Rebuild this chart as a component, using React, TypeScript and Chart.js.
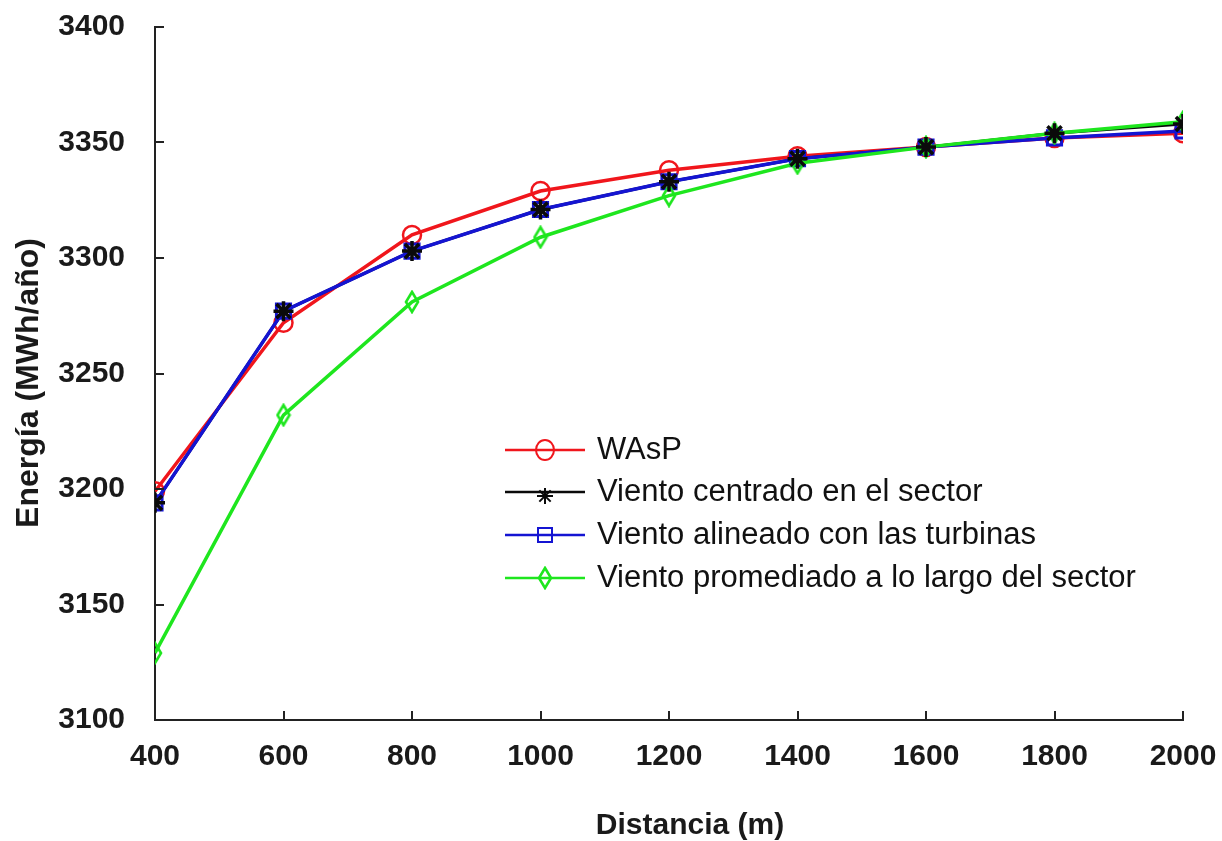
import React, { useEffect, useRef } from 'react';
import { Chart, registerables } from 'chart.js';

Chart.register(...registerables);

// ---- Data ----
const distances = [400, 600, 800, 1000, 1200, 1400, 1600, 1800, 2000];
const wasp = [3199, 3272, 3310, 3329, 3338, 3344, 3348, 3352, 3354];
const centrado = [3194, 3277, 3303, 3321, 3333, 3343, 3348, 3354, 3358];
const alineado = [3194, 3277, 3303, 3321, 3333, 3343, 3348, 3352, 3355];
const promediado = [3129, 3232, 3281, 3309, 3327, 3341, 3348, 3354, 3359];

const seriesNames = [
  'WAsP',
  'Viento centrado en el sector',
  'Viento alineado con las turbinas',
  'Viento promediado a lo largo del sector',
];
const xTitle = 'Distancia (m)';
const yTitle = 'Energía (MWh/año)';
const yMin = 3100;
const yMax = 3400;
const yStep = 50;
const xMin = 400;
const xMax = 2000;
const xStep = 200;

const RED = '#f0161c';
const BLACK = '#0a0a0a';
const BLUE = '#1414d2';
const GREEN = '#1ee61e';
const FONT = "'Liberation Sans', Arial, sans-serif";

function makeDiamond(color: string): HTMLCanvasElement {
  const c = document.createElement('canvas');
  const w = 16;
  const h = 24;
  c.width = w;
  c.height = h;
  const ctx = c.getContext('2d')!;
  ctx.strokeStyle = color;
  ctx.lineWidth = 2.6;
  ctx.beginPath();
  ctx.moveTo(w / 2, 2);
  ctx.lineTo(w - 2, h / 2);
  ctx.lineTo(w / 2, h - 2);
  ctx.lineTo(2, h / 2);
  ctx.closePath();
  ctx.stroke();
  return c;
}

function toPoints(vals: number[]) {
  return distances.map((d, i) => ({ x: d, y: vals[i] }));
}

export default function App() {
  const ref = useRef<HTMLCanvasElement>(null);

  useEffect(() => {
    if (!ref.current) return;
    const diamond = makeDiamond(GREEN);

    const innerTicks = {
      id: 'innerTicks',
      afterDatasetsDraw(chart: any) {
        const ctx = chart.ctx;
        const xs = chart.scales.x;
        const ys = chart.scales.y;
        const { left, bottom } = chart.chartArea;
        ctx.save();
        ctx.strokeStyle = '#222';
        ctx.lineWidth = 2;
        for (let v = xMin + xStep; v <= xMax; v += xStep) {
          const px = Math.round(xs.getPixelForValue(v));
          ctx.beginPath();
          ctx.moveTo(px, bottom);
          ctx.lineTo(px, bottom - 9);
          ctx.stroke();
        }
        for (let v = yMin + yStep; v <= yMax; v += yStep) {
          const py = Math.round(ys.getPixelForValue(v));
          ctx.beginPath();
          ctx.moveTo(left, py);
          ctx.lineTo(left + 9, py);
          ctx.stroke();
        }
        ctx.restore();
      },
    };

    const axisTitles = {
      id: 'axisTitles',
      afterDraw(chart: any) {
        const ctx = chart.ctx;
        ctx.save();
        ctx.fillStyle = '#1a1a1a';
        ctx.textAlign = 'center';
        ctx.textBaseline = 'middle';
        ctx.font = `bold 30px ${FONT}`;
        ctx.fillText(xTitle, 690, 826);
        ctx.translate(29, 383);
        ctx.rotate(-Math.PI / 2);
        ctx.font = `bold 32px ${FONT}`;
        ctx.fillText(yTitle, 0, 0);
        ctx.restore();
      },
    };

    const customLegend = {
      id: 'customLegend',
      afterDraw(chart: any) {
        const ctx = chart.ctx;
        const lx0 = 505;
        const lx1 = 585;
        const mx = (lx0 + lx1) / 2;
        const tx = 597;
        const rows = [450, 492, 535, 578];
        const colors = [RED, BLACK, BLUE, GREEN];
        ctx.save();
        ctx.font = `31px ${FONT}`;
        ctx.textBaseline = 'middle';
        ctx.fillStyle = '#111';
        rows.forEach((ry, i) => {
          ctx.strokeStyle = colors[i];
          ctx.lineWidth = 2.5;
          ctx.beginPath();
          ctx.moveTo(lx0, ry);
          ctx.lineTo(lx1, ry);
          ctx.stroke();
          ctx.lineWidth = 2;
          if (i === 0) {
            ctx.beginPath();
            ctx.ellipse(mx, ry, 9, 10, 0, 0, Math.PI * 2);
            ctx.stroke();
          } else if (i === 1) {
            const r = 8;
            ctx.lineWidth = 2;
            for (let k = 0; k < 4; k++) {
              const a = (k * Math.PI) / 4;
              ctx.beginPath();
              ctx.moveTo(mx - r * Math.cos(a), ry - r * Math.sin(a) + 4);
              ctx.lineTo(mx + r * Math.cos(a), ry + r * Math.sin(a) + 4);
              ctx.stroke();
            }
          } else if (i === 2) {
            ctx.strokeRect(mx - 7, ry - 7, 14, 14);
          } else {
            ctx.drawImage(diamond, mx - 8, ry - 12);
          }
          ctx.fillText(seriesNames[i], tx, ry);
        });
        ctx.restore();
      },
    };

    const chart = new Chart(ref.current, {
      type: 'line',
      data: {
        datasets: [
          {
            label: seriesNames[0],
            data: toPoints(wasp),
            borderColor: RED,
            backgroundColor: 'rgba(0,0,0,0)',
            borderWidth: 3.5,
            pointStyle: 'circle',
            pointRadius: 9,
            pointBorderWidth: 2.5,
            pointBorderColor: RED,
            pointBackgroundColor: 'rgba(0,0,0,0)',
            order: 5,
          },
          {
            label: seriesNames[1],
            data: toPoints(centrado),
            borderColor: BLACK,
            backgroundColor: 'rgba(0,0,0,0)',
            borderWidth: 3,
            pointRadius: 0,
            order: 4,
          },
          {
            label: seriesNames[2],
            data: toPoints(alineado),
            borderColor: BLUE,
            backgroundColor: 'rgba(0,0,0,0)',
            borderWidth: 3.5,
            pointStyle: 'rect',
            pointRadius: 10,
            pointBorderWidth: 3,
            pointBorderColor: BLUE,
            pointBackgroundColor: 'rgba(0,0,0,0)',
            order: 3,
          },
          {
            label: seriesNames[3],
            data: toPoints(promediado),
            borderColor: GREEN,
            backgroundColor: 'rgba(0,0,0,0)',
            borderWidth: 3.5,
            pointStyle: diamond,
            pointRadius: 10,
            order: 2,
          },
          {
            label: seriesNames[1] + ' (marcadores)',
            data: toPoints(centrado),
            showLine: false,
            borderColor: BLACK,
            pointStyle: 'star',
            pointRadius: 10,
            pointBorderWidth: 3.5,
            pointBorderColor: BLACK,
            order: 1,
          },
        ],
      },
      options: {
        responsive: false,
        animation: false,
        devicePixelRatio: 1,
        layout: { padding: { top: 27, right: 39, left: 0, bottom: 0 } },
        plugins: {
          legend: { display: false },
          tooltip: { enabled: false },
        },
        scales: {
          x: {
            type: 'linear',
            min: xMin,
            max: xMax,
            afterFit: (s: any) => {
              s.height = 121;
              s.paddingLeft = 0;
              s.paddingRight = 0;
            },
            ticks: {
              stepSize: xStep,
              padding: 19,
              color: '#1a1a1a',
              font: { family: FONT, size: 30, weight: 'bold' },
              maxRotation: 0,
              callback: (v: any) => String(v),
            },
            grid: { drawOnChartArea: false, drawTicks: false },
            border: { display: true, color: '#222', width: 2 },
            title: { display: false },
          },
          y: {
            min: yMin,
            max: yMax,
            afterFit: (s: any) => {
              s.width = 155;
              s.paddingTop = 0;
              s.paddingBottom = 0;
            },
            ticks: {
              stepSize: yStep,
              padding: 30,
              color: '#1a1a1a',
              font: { family: FONT, size: 30, weight: 'bold' },
              callback: (v: any) => String(v),
            },
            grid: { drawOnChartArea: false, drawTicks: false },
            border: { display: true, color: '#222', width: 2 },
            title: { display: false },
          },
        },
      },
      plugins: [innerTicks, axisTitles, customLegend],
    });

    return () => chart.destroy();
  }, []);

  return (
    <div style={{ position: 'absolute', left: 0, top: 0, width: 1222, height: 841, background: '#fff' }}>
      <canvas ref={ref} width={1222} height={841} style={{ display: 'block' }} />
    </div>
  );
}
